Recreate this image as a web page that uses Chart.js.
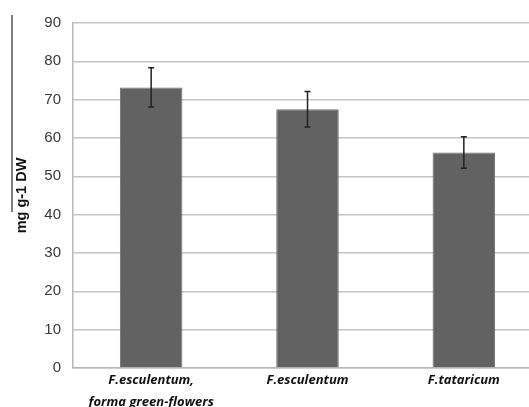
<!DOCTYPE html>
<html>
<head>
<meta charset="utf-8">
<script src="https://cdn.jsdelivr.net/npm/chart.js@4"></script>
<style>
  html, body { margin: 0; padding: 0; background: #fff; overflow: hidden; }
  #wrap { width: 529px; height: 407px; overflow: hidden; position: relative; }
  #box { width: 560px; height: 420px; position: absolute; left: 0; top: 0; }
</style>
</head>
<body>
<div id="wrap"><div id="box"><canvas id="myChart"></canvas></div></div>
<script>
var species = [['F.esculentum,', 'forma green-flowers'], 'F.esculentum', 'F.tataricum'];
var means = [73.2, 67.5, 56.2];
var errors = [5.1, 4.6, 4.1];

// error bars drawn on top of the bars, from the y scale
var errorBars = {
  id: 'errorBars',
  afterDatasetsDraw: function (chart) {
    var c = chart.ctx;
    var meta = chart.getDatasetMeta(0);
    var y = chart.scales.y;
    c.save();
    c.strokeStyle = '#222';
    c.lineWidth = 1.5;
    meta.data.forEach(function (bar, i) {
      var top = y.getPixelForValue(means[i] + errors[i]);
      var bot = y.getPixelForValue(means[i] - errors[i]);
      c.beginPath();
      c.moveTo(bar.x, top); c.lineTo(bar.x, bot);
      c.moveTo(bar.x - 3, top); c.lineTo(bar.x + 3, top);
      c.moveTo(bar.x - 3, bot); c.lineTo(bar.x + 3, bot);
      c.stroke();
    });
    c.restore();
  }
};

// stray rule left of the axis title, as in the scanned figure
var sideRule = {
  id: 'sideRule',
  afterDraw: function (chart) {
    var c = chart.ctx;
    c.save();
    c.strokeStyle = '#555';
    c.lineWidth = 1.5;
    c.beginPath();
    c.moveTo(12, 15); c.lineTo(12, 212);
    c.stroke();
    c.restore();
  }
};

Chart.defaults.font.family = "'Liberation Sans', Arial, sans-serif";

new Chart(document.getElementById('myChart'), {
  type: 'bar',
  data: {
    labels: species,
    datasets: [{
      data: means,
      backgroundColor: '#626262',
      borderColor: '#707070',
      borderWidth: 1,
      categoryPercentage: 1,
      barPercentage: 0.4
    }]
  },
  options: {
    responsive: true,
    maintainAspectRatio: false,
    animation: false,
    layout: { padding: { top: 23, right: 18, left: 0, bottom: 0 } },
    plugins: { legend: { display: false }, tooltip: { enabled: false } },
    scales: {
      x: {
        afterFit: function (s) { s.height = 52; },
        grid: { display: false, drawTicks: false },
        border: { color: '#b8b8b8', width: 1.5 },
        ticks: {
          color: '#111',
          padding: 1,
          maxRotation: 0,
          font: { family: "'Open Sans', sans-serif", size: 13, weight: 'bold', style: 'italic', lineHeight: 1.7 }
        }
      },
      y: {
        min: 0,
        max: 90,
        afterFit: function (s) { s.width = 73; },
        grid: { color: '#c4c4c4', lineWidth: 1.5, drawTicks: false },
        border: { color: '#b8b8b8', width: 1.5 },
        ticks: {
          stepSize: 10,
          color: '#3a3a3a',
          padding: 12,
          font: { size: 15 }
        },
        title: {
          display: true,
          text: 'mg g-1 DW',
          color: '#111',
          padding: { top: 13, bottom: 0 },
          font: { size: 14.5, weight: 'bold' }
        }
      }
    }
  },
  plugins: [errorBars, sideRule]
});
</script>
</body>
</html>
